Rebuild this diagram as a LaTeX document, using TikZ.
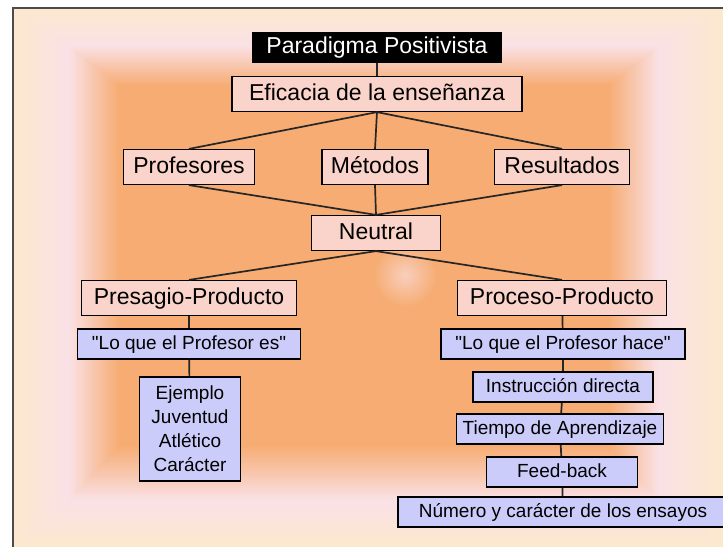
\documentclass[tikz,border=0pt]{standalone}
\usepackage{fontspec}
\setmainfont{Liberation Sans}[Ligatures=TeXOff]
\usepackage{tikz}
\definecolor{beigebg}{RGB}{252,232,206}
\definecolor{pinkbg}{RGB}{250,225,230}
\definecolor{orangebg}{RGB}{246,172,114}
\definecolor{pinkfill}{RGB}{250,212,202}
\definecolor{bluefill}{RGB}{204,204,250}
\tikzset{every edge/.style={draw, line width=1.7pt, color=black!85}}
\tikzset{
  blackbox/.style={fill=black, text=white, minimum height=31pt, text height=17pt, text depth=5pt,
    font=\fontsize{23}{26}\selectfont},
  pinkbox/.style={draw, line width=1.2pt, fill=pinkfill, minimum height=35pt, text height=17pt, text depth=5pt,
    font=\fontsize{23}{26}\selectfont},
  bluebox/.style={draw, line width=1.2pt, fill=bluefill, minimum height=30pt, text height=14pt, text depth=4pt,
    font=\fontsize{19}{22}\selectfont},
  listbox/.style={draw, line width=1.2pt, fill=bluefill, align=center, font=\fontsize{19}{24}\selectfont},
}

\begin{document}
\begin{tikzpicture}[x=1pt, y=-1pt]
  \useasboundingbox (0,0) rectangle (723,547);
  \fill[white] (0,0) rectangle (723,547);
  % background
  \foreach \t in {0,...,24}{
    \pgfmathsetmacro\f{\t/24}
    \pgfmathtruncatemacro\p{100*\t/24}
    \fill[pinkbg!\p!beigebg] ({13+55*\f},{8+37*\f}) rectangle ({723-63*\f},{547-45*\f});
  }
  \foreach \t in {0,...,24}{
    \pgfmathsetmacro\f{\t/24}
    \pgfmathtruncatemacro\p{100*\t/24}
    \fill[orangebg!\p!pinkbg] ({68+50*\f},{45+40*\f}) rectangle ({660-50*\f},{502-55*\f});
  }
  \shade[inner color=orangebg!35!pinkbg, outer color=orangebg] (405,275) circle (32);
  \draw[line width=1.5pt, black!70] (13,547) -- (13,8) -- (723,8);

  \node[blackbox, minimum width=250pt] at (377, 47)  (par) {Paradigma Positivista};
  \node[pinkbox, minimum width=290pt]  at (377, 94)  (efi) {Eficacia de la enseñanza};

  \node[pinkbox, minimum width=131pt] at (189, 167) (prof) {Profesores};
  \node[pinkbox, minimum width=106pt] at (375, 167) (met)  {Métodos};
  \node[pinkbox, minimum width=135pt] at (562, 167) (res)  {Resultados};
  \node[pinkbox, minimum width=129pt] at (376, 233) (neu)  {Neutral};

  \node[pinkbox, minimum width=215pt] at (189, 298) (pre) {Presagio-Producto};
  \node[pinkbox, minimum width=209pt] at (562, 298) (pro) {Proceso-Producto};

  \node[bluebox, minimum width=223pt] at (189, 344) (es)   {"Lo que el Profesor es"};
  \node[bluebox, minimum width=244pt] at (563, 344) (hace) {"Lo que el Profesor hace"};
  \node[listbox, minimum width=101pt, minimum height=104pt] at (190, 429) (ejem)
        {Ejemplo\\Juventud\\Atlético\\Carácter};

  \node[bluebox, minimum width=180pt] at (563, 387) (ins)  {Instrucción directa};
  \node[bluebox, minimum width=207pt] at (560, 429) (tie)  {Tiempo de Aprendizaje};
  \node[bluebox, minimum width=151pt] at (562, 472) (feed) {Feed-back};
  \node[bluebox, minimum width=330pt] at (563, 512) (num)  {Número y carácter de los ensayos};

  \draw (par) edge (efi);
  \draw (efi.south) edge (prof.north);
  \draw (efi.south) edge (met.north);
  \draw (efi.south) edge (res.north);

  \draw (prof.south) edge (neu.north);
  \draw (met.south) edge (neu.north);
  \draw (res.south) edge (neu.north);

  \draw (neu.south) edge (pre.north);
  \draw (neu.south) edge (pro.north);

  \draw (pre) edge (es);
  \draw (es) edge (ejem);
  \draw (pro) edge (hace);
  \draw (hace) edge (ins);
  \draw (ins) edge (tie);
  \draw (tie) edge (feed);
  \draw (feed) edge (num);
\end{tikzpicture}
\end{document}
